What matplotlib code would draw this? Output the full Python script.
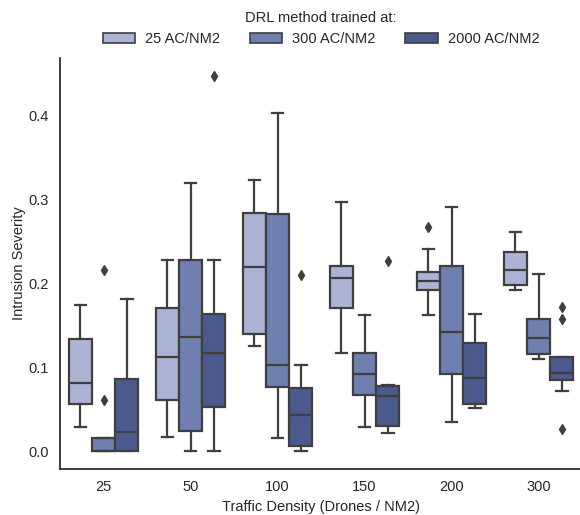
import matplotlib
matplotlib.use("Agg")
import matplotlib.pyplot as plt
from matplotlib.patches import Patch
import numpy as np

plt.rcParams['font.family'] = ['Liberation Sans', 'DejaVu Sans']

categories = ['25', '50', '100', '150', '200', '300']
hues = ['25 AC/NM2', '300 AC/NM2', '2000 AC/NM2']
colors = ['#adb3d5', '#6f80b0', '#4b5a8c']

# 25 AC/NM2
lo_25 = [0.029, 0.017, 0.125, 0.117, 0.162, 0.192]
q1_25 = [0.056, 0.061, 0.139, 0.170, 0.192, 0.198]
md_25 = [0.081, 0.112, 0.219, 0.206, 0.202, 0.215]
q3_25 = [0.133, 0.170, 0.284, 0.220, 0.213, 0.237]
hi_25 = [0.174, 0.228, 0.323, 0.296, 0.240, 0.261]
fl_25 = [[], [], [], [], [0.267], []]

# 300 AC/NM2
lo_300 = [0.0, 0.0, 0.015, 0.029, 0.034, 0.110]
q1_300 = [0.0, 0.024, 0.076, 0.067, 0.092, 0.116]
md_300 = [0.0, 0.136, 0.103, 0.092, 0.142, 0.134]
q3_300 = [0.016, 0.228, 0.282, 0.117, 0.220, 0.157]
hi_300 = [0.016, 0.319, 0.403, 0.162, 0.291, 0.211]
fl_300 = [[0.215, 0.061], [], [], [], [], []]

# 2000 AC/NM2
lo_2000 = [0.0, 0.0, 0.0, 0.021, 0.051, 0.071]
q1_2000 = [0.0, 0.053, 0.006, 0.030, 0.056, 0.085]
md_2000 = [0.023, 0.117, 0.043, 0.066, 0.087, 0.093]
q3_2000 = [0.086, 0.163, 0.075, 0.078, 0.129, 0.112]
hi_2000 = [0.181, 0.228, 0.102, 0.079, 0.163, 0.112]
fl_2000 = [[], [0.446], [0.210], [0.226], [], [0.172, 0.157, 0.026]]

series = [
    (lo_25, q1_25, md_25, q3_25, hi_25, fl_25),
    (lo_300, q1_300, md_300, q3_300, hi_300, fl_300),
    (lo_2000, q1_2000, md_2000, q3_2000, hi_2000, fl_2000),
]

fig = plt.figure(figsize=(5.8, 5.15), dpi=100)
ax = fig.add_axes([60/580, 46/515, 522/580, 411/515])

gray = '#3f3f3f'
bw = 0.8 / 3
for h, (lo, q1, md, q3, hi, fl) in enumerate(series):
    stats = []
    for i in range(len(categories)):
        stats.append(dict(whislo=lo[i], q1=q1[i], med=md[i], q3=q3[i],
                          whishi=hi[i], fliers=fl[i]))
    pos = np.arange(len(categories)) + (h - 1) * bw
    ax.bxp(stats, positions=pos, widths=bw, patch_artist=True,
           showfliers=True, capwidths=bw / 2,
           boxprops=dict(facecolor=colors[h], edgecolor=gray, linewidth=1.6),
           medianprops=dict(color=gray, linewidth=1.6),
           whiskerprops=dict(color=gray, linewidth=1.6),
           capprops=dict(color=gray, linewidth=1.6),
           flierprops=dict(marker='d', markerfacecolor=gray, markeredgecolor=gray,
                           markersize=5.5, linestyle='none'))

ax.set_xlim(-0.5, len(categories) - 0.5)
ax.set_ylim(-0.0214, 0.468)
ax.set_xticks(np.arange(len(categories)))
ax.set_xticklabels(categories)
ax.set_yticks([0.0, 0.1, 0.2, 0.3, 0.4])
ax.set_yticklabels(['0.0', '0.1', '0.2', '0.3', '0.4'])
ax.tick_params(length=0, labelsize=10.5, colors='#262626', pad=8)
for s in ['top', 'right']:
    ax.spines[s].set_visible(False)
for s in ['left', 'bottom']:
    ax.spines[s].set_color('#262626')
    ax.spines[s].set_linewidth(1.25)

ax.set_xlabel('Traffic Density (Drones / NM2)', fontsize=10.5, color='#262626', labelpad=4)
ax.set_ylabel('Intrusion Severity', fontsize=10.5, color='#262626', labelpad=2)

handles = [Patch(facecolor=c, edgecolor=gray, linewidth=1.2) for c in colors]
leg = ax.legend(handles, hues, title='DRL method trained at:', loc='lower center',
                bbox_to_anchor=(0.5, 1.015), ncol=3, frameon=False, fontsize=10.5,
                title_fontsize=10.5, handlelength=2.2, columnspacing=2.05,
                handletextpad=0.7, borderaxespad=0.0)
for t in leg.get_texts():
    t.set_color('#262626')
leg.get_title().set_color('#262626')

fig.savefig('out.png', dpi=100)
